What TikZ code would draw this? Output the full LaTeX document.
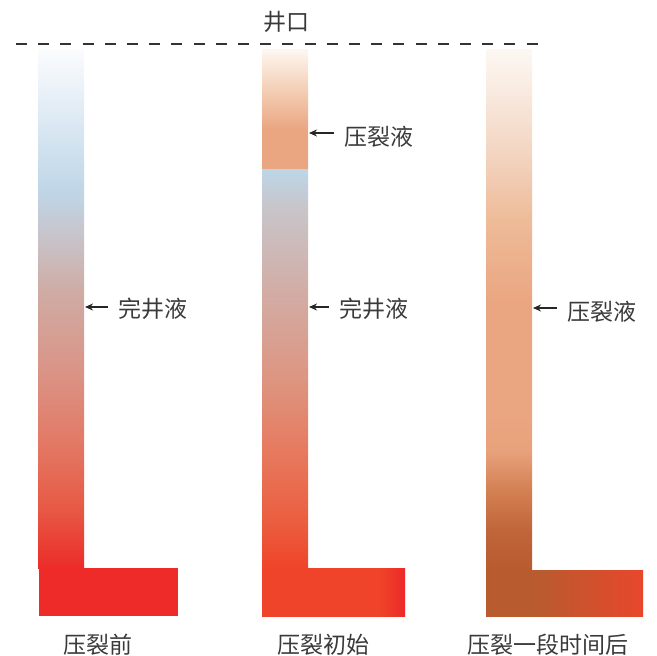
\documentclass[tikz,border=0pt]{standalone}
\usepackage{fontspec}
\setmainfont{Noto Sans CJK SC}
\usetikzlibrary{arrows.meta,calc}

% colours
\definecolor{txt}{HTML}{3A3A3A}
\definecolor{dashc}{HTML}{333333}
% well 1
\definecolor{wa0}{HTML}{FBFCFE}
\definecolor{wa1}{HTML}{BFD6E8}
\definecolor{wa2}{HTML}{C8C2C8}
\definecolor{wa3}{HTML}{CFACA5}
\definecolor{wa4}{HTML}{DA9385}
\definecolor{wa5}{HTML}{E27A66}
\definecolor{wa6}{HTML}{E75A45}
\definecolor{wa7}{HTML}{EA3A30}
\definecolor{wa8}{HTML}{EC2C2A}
\definecolor{wafoot}{HTML}{EE2B29}
% well 2 top
\definecolor{wb0}{HTML}{FDF7F1}
\definecolor{wb1}{HTML}{F2C9AE}
\definecolor{wb2}{HTML}{EAA581}
% well 2 lower
\definecolor{wc0}{HTML}{BDD6E8}
\definecolor{wc1}{HTML}{C8C4C8}
\definecolor{wc2}{HTML}{D2ADA6}
\definecolor{wc3}{HTML}{DD9580}
\definecolor{wc4}{HTML}{E67A5F}
\definecolor{wc5}{HTML}{EB5E40}
\definecolor{wc6}{HTML}{EF4429}
\definecolor{wc7}{HTML}{EC2A2A}
% well 3
\definecolor{wd0}{HTML}{FDF8F3}
\definecolor{wd1}{HTML}{F3D6C3}
\definecolor{wd2}{HTML}{EEBB98}
\definecolor{wd3}{HTML}{EAA681}
\definecolor{wd4}{HTML}{E8A27C}
\definecolor{wd5}{HTML}{D38052}
\definecolor{wd6}{HTML}{C0663A}
\definecolor{wd7}{HTML}{B85B2E}
\definecolor{wd8}{HTML}{E8472C}

% shadings (path box mapped to 25bp..75bp; vertical: 0 = bottom)
\pgfdeclareverticalshading{wellA}{100bp}{%
  color(0bp)=(wa8); color(25bp)=(wa8); color(26.73bp)=(wa7);
  color(30.88bp)=(wa6); color(37.33bp)=(wa5); color(43.79bp)=(wa4);
  color(51.78bp)=(wa3); color(56.6bp)=(wa2); color(61.42bp)=(wa1);
  color(75bp)=(wa0); color(100bp)=(wa0)}
\pgfdeclareverticalshading{wellBtop}{100bp}{%
  color(0bp)=(wb2); color(25bp)=(wb2); color(41.25bp)=(wb2);
  color(55.83bp)=(wb1); color(75bp)=(wb0); color(100bp)=(wb0)}
\pgfdeclareverticalshading{wellBlow}{100bp}{%
  color(0bp)=(wc6); color(25bp)=(wc6); color(31.02bp)=(wc5);
  color(39.79bp)=(wc4); color(48.56bp)=(wc3); color(59.84bp)=(wc2);
  color(69.86bp)=(wc1); color(75bp)=(wc0); color(100bp)=(wc0)}
\pgfdeclarehorizontalshading{footB}{100bp}{%
  color(0bp)=(wc6); color(25bp)=(wc6); color(66bp)=(wc6);
  color(75bp)=(wc7); color(100bp)=(wc7)}
\pgfdeclareverticalshading{wellD}{100bp}{%
  color(0bp)=(wd7); color(25bp)=(wd7); color(28.84bp)=(wd6);
  color(32.68bp)=(wd5); color(36.5bp)=(wd4); color(40bp)=(wd3);
  color(50.91bp)=(wd3); color(58.59bp)=(wd2); color(65.31bp)=(wd1);
  color(75bp)=(wd0); color(100bp)=(wd0)}
\pgfdeclarehorizontalshading{footD}{100bp}{%
  color(0bp)=(wd7); color(25bp)=(wd7); color(40.6bp)=(wd7);
  color(75bp)=(wd8); color(100bp)=(wd8)}

\tikzset{
  lbl/.style={font=\fontsize{23}{25}\selectfont, text=txt, inner sep=0pt},
  sidelbl/.style={lbl, anchor=west},
  ptr/.style={draw=black!85, line width=1.4pt, shorten <=10pt,
              -{Stealth[length=8pt,width=7pt]}},
  mouthline/.style={draw=dashc, line width=2.2pt, dash pattern=on 11pt off 11.2pt},
}

\begin{document}
\begin{tikzpicture}[x=1pt,y=-1pt]
\useasboundingbox (0,0) rectangle (657,656);

% well mouth
\draw[mouthline] (16,44) -- (544,44);
\node[lbl] (mouth) at (286,22) {井口};

% well 1
\shade[shading=wellA] (38,49) rectangle (84,568.5);
\fill[wafoot] (39,568) rectangle (178,615.5);

% well 2
\shade[shading=wellBtop] (262,49) rectangle (308,169.3);
\shade[shading=wellBlow] (262,169) rectangle (308,568.5);
\shade[shading=footB] (262,568) rectangle (405,616);

% well 3
\shade[shading=wellD] (486,49) rectangle (532,570.5);
\shade[shading=footD] (486,570) rectangle (643,616);

% side labels and pointers
\node[sidelbl] (lbA) at (118,309) {完井液};
\coordinate (tA) at (85,307);
\draw[ptr] (lbA.west |- tA) -- (tA);

\node[sidelbl] (lbB) at (344,137) {压裂液};
\coordinate (tB) at (309,133);
\draw[ptr] (lbB.west |- tB) -- (tB);

\node[sidelbl] (lbC) at (339,309) {完井液};
\coordinate (tC) at (309,307);
\draw[ptr] (lbC.west |- tC) -- (tC);

\node[sidelbl] (lbD) at (567,312) {压裂液};
\coordinate (tD) at (533,308);
\draw[ptr] (lbD.west |- tD) -- (tD);

% captions
\node[lbl] (capA) at (98,645) {压裂前};
\node[lbl] (capB) at (323,645) {压裂初始};
\node[lbl] (capC) at (548,645) {压裂一段时间后};
\end{tikzpicture}
\end{document}
